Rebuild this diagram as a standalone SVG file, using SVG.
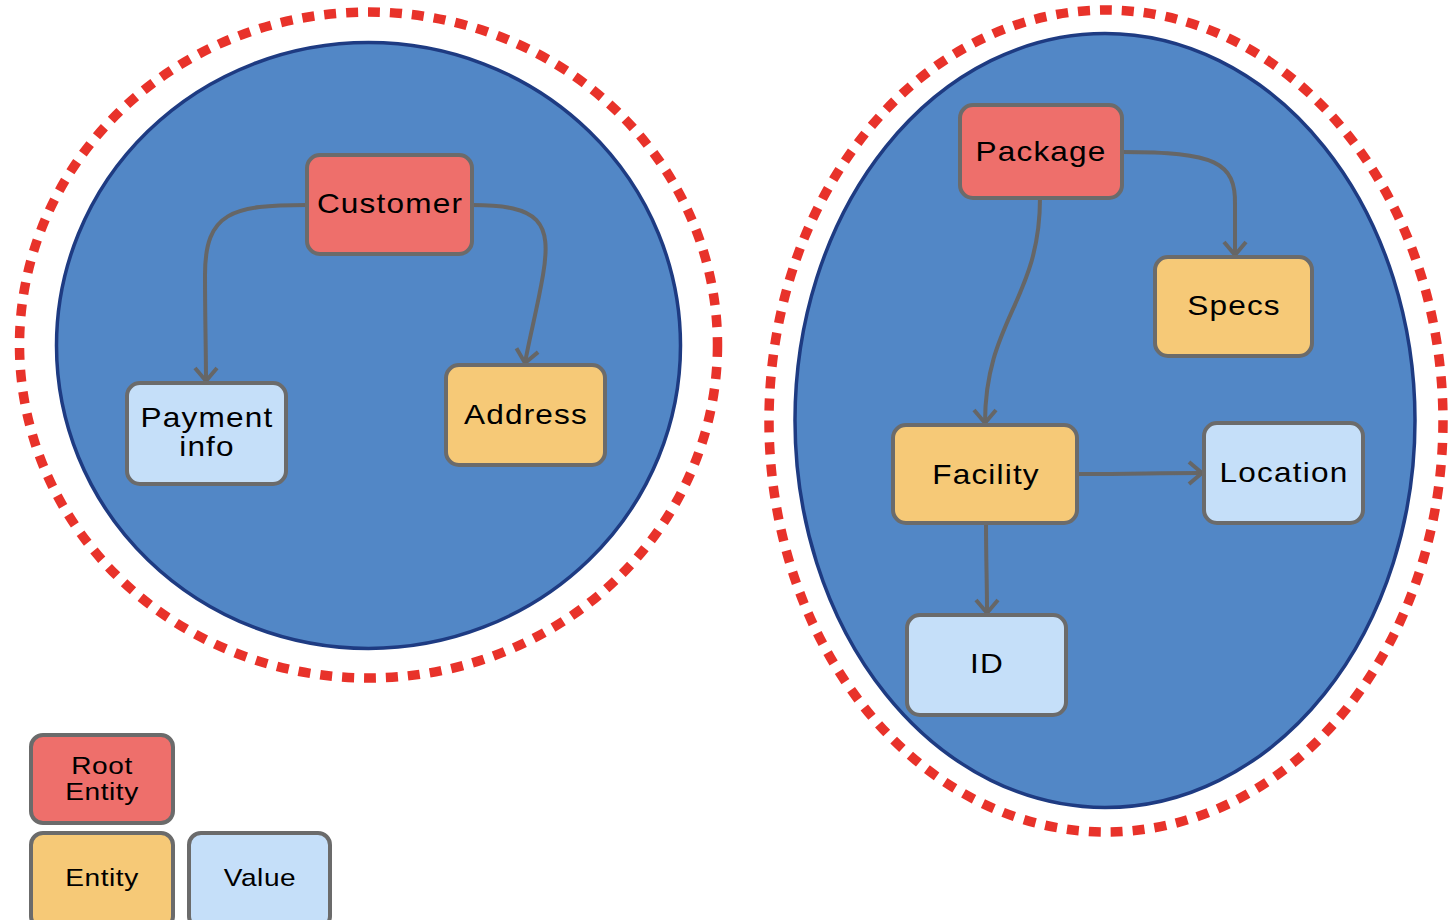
<svg xmlns="http://www.w3.org/2000/svg" width="1453" height="920" viewBox="0 0 1453 920">
  <defs>
    <style>
      .boundary { fill: none; stroke: #e8322a; stroke-width: 9.5; stroke-dasharray: 12 10; }
      .aggregate { fill: #5287c6; stroke: #1e3b82; stroke-width: 3.5; }
      .box { stroke: #6b6b6b; stroke-width: 4; }
      .root { fill: #ee6f6b; }
      .entity { fill: #f6c977; }
      .value { fill: #c5dff9; }
      .label { font-family: "Liberation Sans", Arial, sans-serif; font-size: 27px; letter-spacing: 1px; fill: #000; text-anchor: middle; }
      .legend { font-size: 24px; letter-spacing: 0.5px; }
      .edge { fill: none; stroke: #666; stroke-width: 4; marker-end: url(#open); }
    </style>
    <marker id="open" viewBox="0 0 24 28" refX="20" refY="14" markerWidth="24" markerHeight="28" markerUnits="userSpaceOnUse" orient="auto">
      <path d="M7,3 L20,14 L7,25" fill="none" stroke="#666" stroke-width="4"/>
    </marker>
  </defs>

  <!-- aggregate boundaries -->
  <g id="aggregate-customer">
    <ellipse class="boundary" cx="368.5" cy="345" rx="349" ry="333"/>
    <ellipse class="aggregate" cx="368.5" cy="345.5" rx="312" ry="303"/>
  </g>
  <g id="aggregate-package">
    <ellipse class="boundary" cx="1106" cy="421" rx="337" ry="411"/>
    <ellipse class="aggregate" cx="1105" cy="420.5" rx="310" ry="387"/>
  </g>

  <!-- connectors -->
  <g id="connectors">
    <path class="edge" d="M307,205 C232,205 205,212 205,275 C205,320 206,350 206,381"/>
    <path class="edge" d="M472,205 C540,205 552,222 543,275 C537,310 530,335 525,363"/>
    <path class="edge" d="M1122,152 C1215,152 1236,162 1235,205 L1235,255"/>
    <path class="edge" d="M1040,198 C1040,300 985,320 985,423"/>
    <path class="edge" d="M1077,474 C1140,474 1150,473 1202,473"/>
    <path class="edge" d="M986,523 C986,560 987,580 987,613"/>
  </g>

  <!-- nodes -->
  <g id="node-customer">
    <rect class="box root" x="307" y="155" width="165" height="99" rx="13"/>
    <text class="label" transform="translate(390,213) scale(1.17,1)">Customer</text>
  </g>
  <g id="node-payment-info">
    <rect class="box value" x="127" y="383" width="159" height="101" rx="13"/>
    <text class="label" transform="translate(207,427) scale(1.17,1)">Payment</text>
    <text class="label" transform="translate(207,456) scale(1.17,1)">info</text>
  </g>
  <g id="node-address">
    <rect class="box entity" x="446" y="365" width="159" height="100" rx="13"/>
    <text class="label" transform="translate(526,424) scale(1.17,1)">Address</text>
  </g>
  <g id="node-package">
    <rect class="box root" x="960" y="105" width="162" height="93" rx="13"/>
    <text class="label" transform="translate(1041,161) scale(1.17,1)">Package</text>
  </g>
  <g id="node-specs">
    <rect class="box entity" x="1155" y="257" width="157" height="99" rx="13"/>
    <text class="label" transform="translate(1234,315) scale(1.17,1)">Specs</text>
  </g>
  <g id="node-facility">
    <rect class="box entity" x="893" y="425" width="184" height="98" rx="13"/>
    <text class="label" transform="translate(986,484) scale(1.17,1)">Facility</text>
  </g>
  <g id="node-location">
    <rect class="box value" x="1204" y="423" width="159" height="100" rx="13"/>
    <text class="label" transform="translate(1284,482) scale(1.17,1)">Location</text>
  </g>
  <g id="node-id">
    <rect class="box value" x="907" y="615" width="159" height="100" rx="13"/>
    <text class="label" transform="translate(987,673) scale(1.17,1)">ID</text>
  </g>

  <!-- legend -->
  <g id="legend-root-entity">
    <rect class="box root" x="31" y="735" width="142" height="88" rx="12"/>
    <text class="label legend" transform="translate(102,774) scale(1.17,1)">Root</text>
    <text class="label legend" transform="translate(102,800) scale(1.17,1)">Entity</text>
  </g>
  <g id="legend-entity">
    <rect class="box entity" x="31" y="833" width="142" height="95" rx="12"/>
    <text class="label legend" transform="translate(102,886) scale(1.17,1)">Entity</text>
  </g>
  <g id="legend-value">
    <rect class="box value" x="189" y="833" width="141" height="95" rx="12"/>
    <text class="label legend" transform="translate(260,886) scale(1.17,1)">Value</text>
  </g>
</svg>
